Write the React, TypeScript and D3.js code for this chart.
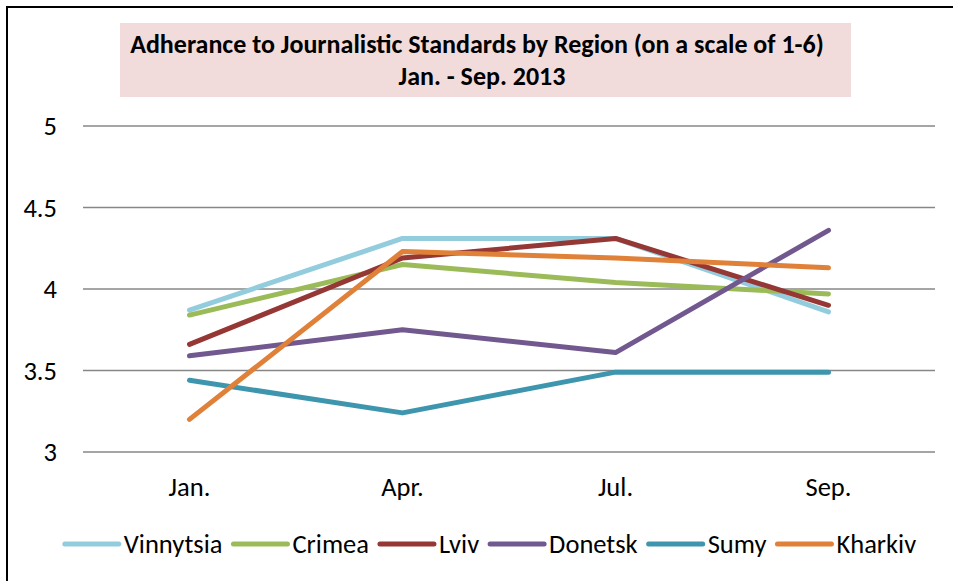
import { useEffect, useRef } from "react";
import * as d3 from "d3";

const months = ["Jan.", "Apr.", "Jul.", "Sep."];
const yTicks = [3, 3.5, 4, 4.5, 5];

const regions = ["Vinnytsia", "Crimea", "Lviv", "Donetsk", "Sumy", "Kharkiv"];
const colors = ["#93CDDD", "#9BBB59", "#953735", "#71588F", "#3D96AE", "#E0813A"];

const vinnytsia = [3.87, 4.31, 4.31, 3.86];
const crimea = [3.84, 4.15, 4.04, 3.97];
const lviv = [3.66, 4.19, 4.31, 3.9];
const donetsk = [3.59, 3.75, 3.61, 4.36];
const sumy = [3.44, 3.24, 3.49, 3.49];
const kharkiv = [3.2, 4.23, 4.19, 4.13];

const values = [vinnytsia, crimea, lviv, donetsk, sumy, kharkiv];

const W = 953;
const H = 581;
const FONT = "Carlito, Calibri, 'Open Sans', 'Noto Sans', sans-serif";

export default function App() {
  const ref = useRef<SVGSVGElement | null>(null);

  useEffect(() => {
    const svg = d3.select(ref.current);
    svg.selectAll("*").remove();

    const left = 83;
    const right = 935;
    const top = 126;
    const bottom = 452;

    const x = d3.scaleBand<string>().domain(months).range([left, right]);
    const y = d3.scaleLinear().domain([3, 5]).range([bottom, top]);

    svg.append("rect").attr("width", W).attr("height", H).attr("fill", "#fff");

    // outer chart border
    svg
      .append("rect")
      .attr("x", 7)
      .attr("y", 7)
      .attr("width", W + 20)
      .attr("height", H + 20)
      .attr("fill", "none")
      .attr("stroke", "#000")
      .attr("stroke-width", 2);

    // title box
    svg
      .append("rect")
      .attr("x", 120)
      .attr("y", 23)
      .attr("width", 731)
      .attr("height", 74)
      .attr("fill", "#F2DCDB");

    const title = svg
      .append("g")
      .attr("font-family", FONT)
      .attr("font-weight", "bold")
      .attr("font-size", 26)
      .attr("fill", "#000")
      .attr("text-anchor", "middle");
    title.append("text").attr("x", 477).attr("y", 53).text("Adherance to Journalistic Standards by Region (on a scale of 1-6)");
    title.append("text").attr("x", 482).attr("y", 85).text("Jan. - Sep. 2013");

    // gridlines
    svg
      .append("g")
      .selectAll("line")
      .data(yTicks)
      .enter()
      .append("line")
      .attr("x1", left)
      .attr("x2", right)
      .attr("y1", (d) => y(d))
      .attr("y2", (d) => y(d))
      .attr("stroke", "#878787")
      .attr("stroke-width", 1.5);

    // y labels
    svg
      .append("g")
      .selectAll("text")
      .data(yTicks)
      .enter()
      .append("text")
      .attr("x", 57)
      .attr("y", (d) => y(d) + 9)
      .attr("text-anchor", "end")
      .attr("font-family", FONT)
      .attr("font-size", 26.5)
      .attr("fill", "#000")
      .text((d) => String(d));

    // x labels
    svg
      .append("g")
      .selectAll("text")
      .data(months)
      .enter()
      .append("text")
      .attr("x", (d) => (x(d) ?? 0) + x.bandwidth() / 2)
      .attr("y", 496)
      .attr("text-anchor", "middle")
      .attr("font-family", FONT)
      .attr("font-size", 26.5)
      .attr("fill", "#000")
      .text((d) => d);

    const line = d3
      .line<number>()
      .x((_, i) => (x(months[i]) ?? 0) + x.bandwidth() / 2)
      .y((d) => y(d));

    values.forEach((vals, i) => {
      svg
        .append("path")
        .datum(vals)
        .attr("fill", "none")
        .attr("stroke", colors[i])
        .attr("stroke-width", 5)
        .attr("stroke-linecap", "round")
        .attr("stroke-linejoin", "round")
        .attr("d", line);
    });

    // legend
    const legend = svg.append("g");
    const items = regions.map((name, i) => {
      const g = legend.append("g");
      g.append("line")
        .attr("x1", 0)
        .attr("x2", 54)
        .attr("y1", 0)
        .attr("y2", 0)
        .attr("stroke", colors[i])
        .attr("stroke-width", 5)
        .attr("stroke-linecap", "round");
      const t = g
        .append("text")
        .attr("x", 59)
        .attr("y", 9)
        .attr("font-family", FONT)
        .attr("font-size", 26.5)
        .attr("fill", "#000")
        .text(name);
      const tw = (t.node() as SVGTextElement).getComputedTextLength();
      return { g, w: 59 + tw };
    });
    const gap = 11;
    const total = d3.sum(items, (d) => d.w) + gap * (items.length - 1);
    let cx = 490.5 - total / 2;
    items.forEach((it) => {
      it.g.attr("transform", `translate(${cx},544)`);
      cx += it.w + gap;
    });
  }, []);

  return (
    <svg
      ref={ref}
      width={W}
      height={H}
      style={{ position: "absolute", left: 0, top: 0, display: "block" }}
    />
  );
}
